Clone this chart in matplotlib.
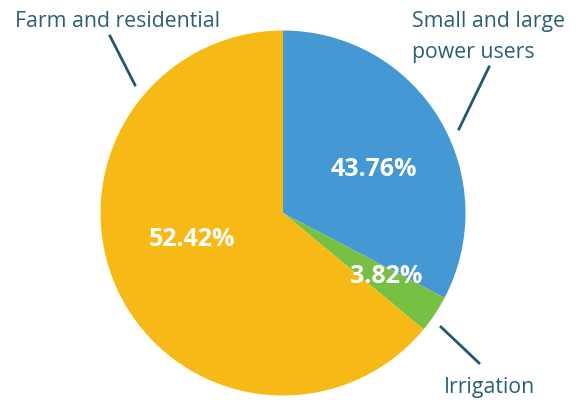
import matplotlib
matplotlib.use("Agg")
import matplotlib.pyplot as plt

# Data
categories = ["Small and large\npower users", "Irrigation", "Farm and residential"]
percent_labels = [43.76, 3.82, 52.42]          # values printed on the slices
slice_shares = [32.7, 3.3, 64.0]                # slice sizes as drawn in the picture
colors = ["#4498d3", "#77c043", "#f7b916"]

W, H = 582, 400
fig = plt.figure(figsize=(W / 100, H / 100), dpi=100)
ax = fig.add_axes([0, 0, 1, 1])

cx, cy, r = 283, H - 213, 182.5
ax.pie(slice_shares, colors=colors, startangle=90, counterclock=False,
       center=(cx, cy), radius=r, frame=True,
       wedgeprops=dict(linewidth=0))
ax.set_xlim(0, W)
ax.set_ylim(0, H)
ax.set_aspect("equal")
ax.axis("off")

txt_color = "#2b6074"
line_color = "#22586b"
font = "Open Sans"
fs = 15.3

# Percent labels on slices
pct_pos = [(373.5, 169), (386.5, 276.5), (191.5, 239)]
for p, (x, y) in zip(percent_labels, pct_pos):
    ax.text(x, H - y, f"{p:.2f}%", color="white", fontsize=18, fontweight="bold",
            family=font, ha="center", va="center")

# Category labels with leader lines
ax.text(15, H - 27, categories[2], color=txt_color, fontsize=fs, family=font,
        ha="left", va="baseline")
ax.plot([110, 135], [H - 36, H - 85], color=line_color, lw=2)

line1, line2 = categories[0].split("\n")
ax.text(411.5, H - 27, line1, color=txt_color, fontsize=fs,
        family=font, ha="left", va="baseline")
ax.text(411.5, H - 58, line2, color=txt_color, fontsize=fs,
        family=font, ha="left", va="baseline")
ax.plot([489, 459], [H - 67, H - 129], color=line_color, lw=2)

ax.text(443.5, H - 393, categories[1], color=txt_color, fontsize=fs, family=font,
        ha="left", va="baseline")
ax.plot([441, 479], [H - 327, H - 363], color=line_color, lw=2)

fig.savefig("out.png", dpi=100)
